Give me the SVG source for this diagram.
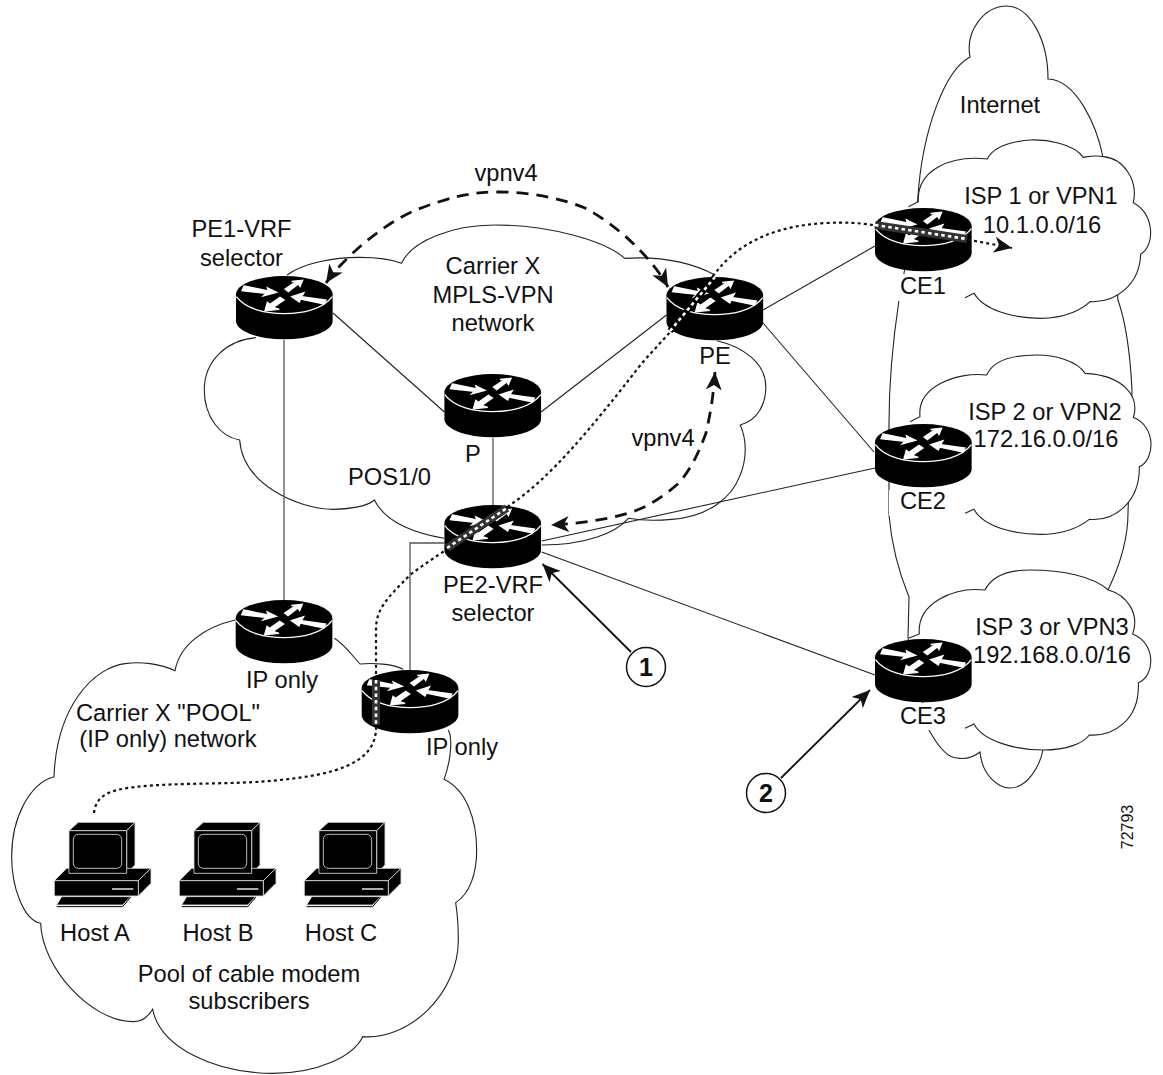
<svg xmlns="http://www.w3.org/2000/svg" xmlns:xlink="http://www.w3.org/1999/xlink" width="1163" height="1075" viewBox="0 0 1163 1075">
<style>
text{font-family:"Liberation Sans",Arial,sans-serif;font-size:23.7px;fill:#111;text-anchor:middle}
.cloud{fill:#fff;stroke:#222;stroke-width:1.1;vector-effect:non-scaling-stroke}
.open{fill:none}
.link{fill:none;stroke:#222;stroke-width:1.1}
.grey{stroke:#555;stroke-width:1.3}
.dot{fill:none;stroke:#111;stroke-width:2.2;stroke-dasharray:3 3.2}
.dash{fill:none;stroke:#111;stroke-width:2.8;stroke-dasharray:12 8}
.band{fill:none;stroke:#333;stroke-width:8}
.wdot{fill:none;stroke:#fff;stroke-width:2.6;stroke-dasharray:3.5 3.2}
.lab{fill:#fff;stroke:none}
.solid{stroke:#111;stroke-width:1.8;fill:none}
</style>
<defs>
<g id="router" transform="scale(.3333)">
<path d="M0,55 A145,55 0 0 1 290,55 V135 A145,55 0 0 1 0,135 Z" fill="#000"/>
<path d="M1,62 C30,100 90,113 145,113 C200,113 260,100 289,62" fill="none" stroke="#fff" stroke-width="4"/>
<g fill="#fff" stroke="#fff" stroke-width="4">
<polygon points="24,30 97,45 94,35 122,49 82,60 90,52 18,44"/>
<polygon points="200,13 192,32 187,24 157,47 147,39 177,19 167,16"/>
<polygon points="167,62 204,50 197,62 270,72 264,84 194,69 190,78"/>
<polygon points="87,104 94,79 102,85 132,64 144,72 112,94 130,100"/>
</g>
</g>
<g id="host" transform="translate(40 790) scale(.3333)" stroke="#ddd" stroke-width="2.5" stroke-linejoin="round">
<polygon points="87,122 115,97 285,97 260,122" fill="#000"/>
<polygon points="260,122 285,97 285,225 260,250" fill="#000"/>
<polygon points="43,272 80,235 333,235 295,272" fill="#000"/>
<polygon points="295,272 333,235 333,280 295,318" fill="#000"/>
<rect x="87" y="122" width="173" height="128" fill="#000"/>
<rect x="100" y="133" width="145" height="102" rx="15" fill="#000" stroke="#bbb" stroke-width="3"/>
<rect x="43" y="272" width="252" height="46" fill="#000"/>
<path d="M216,297 H280" stroke="#aaa" stroke-width="6"/>
<polygon points="65,320 272,320 248,345 50,345" fill="#000"/>
<path d="M50,350 H248 L272,322" fill="none" stroke="#000" stroke-width="3"/>
</g>
<marker id="barb" viewBox="0 0 18 18" markerUnits="userSpaceOnUse" markerWidth="18" markerHeight="18" refX="18" refY="9" orient="auto-start-reverse">
<path d="M0,1 L18,9 L0,17 L5,9 Z" fill="#111"/>
</marker>
<marker id="sharp" viewBox="0 0 18 18" markerUnits="userSpaceOnUse" markerWidth="18" markerHeight="18" refX="18" refY="9" orient="auto">
<path d="M0,1 L18,9 L0,17 L5,9 Z" fill="#111"/>
</marker>
</defs>

<g id="cloud-carrier" transform="translate(190 150) scale(.37636 .33333)">
<path class="cloud open" d="M258,375 C300,340 380,322 450,322 C500,322 540,330 562,340 C590,270 700,225 810,225 C950,225 1100,270 1155,325 C1230,320 1320,330 1395,375 M1400,572 C1470,590 1530,640 1530,710 C1530,760 1510,810 1462,825 C1480,870 1480,930 1460,980 C1440,1040 1380,1100 1280,1108 C1240,1112 1190,1110 1165,1105 C1130,1150 1050,1185 935,1185 M675,1165 C600,1150 520,1120 490,1050 C470,1070 420,1078 380,1078 C280,1075 140,1000 132,870 C80,860 38,800 38,720 C38,630 100,570 175,563"/>
</g>
<g id="cloud-pool" transform="translate(0 600) scale(.33333)">
<path class="cloud open" d="M705,60 C620,80 540,130 525,212 C480,190 420,185 380,190 C280,200 170,320 162,530 C90,550 35,650 35,770 C35,860 70,960 122,970 C125,1100 270,1265 400,1265 C425,1265 445,1250 458,1228 C480,1340 640,1420 820,1420 C950,1420 1060,1370 1088,1310 C1230,1320 1375,1180 1375,1020 C1375,980 1372,940 1367,908 C1410,880 1430,820 1430,750 C1430,660 1400,570 1332,538 C1350,490 1360,420 1345,390 M1210,208 C1180,192 1120,188 1080,192 C1060,170 1030,130 1003,115"/>
</g>
<g id="cloud-internet">
<path class="cloud" d="M929,730 C940,750 950,758 957,758 C968,760 975,756 980,752 C982,775 998,788 1010,788 C1028,788 1040,765 1043,750 L1108,590 C1120,565 1128,540 1128,513 L1132,390 C1130,350 1125,320 1118,300 L1103,157 C1097,127 1077,80 1048,79 C1048,40 1030,6 1006.7,6 C985,6 965,30 970,57 C945,70 922,130 917.7,200 L899,300 C893,340 889,380 889,423 L889,515 C892,550 902,580 909,597 L908,638 Z"/>
</g>
<g id="cloud-isp1" transform="translate(850 0) scale(.33333)">
<path class="cloud" d="M345,893 L372,880 C400,930 490,955 570,955 C650,955 700,925 720,905 C800,910 870,850 872,762 C915,740 915,640 850,608 C865,540 820,475 760,470 C730,465 715,470 700,472 C670,430 590,418 540,420 C480,425 430,440 412,477 C300,465 200,510 205,605 L175,620"/>
</g>
<g id="cloud-isp2" transform="translate(850 300) scale(.33333)">
<path class="cloud" d="M345,640 L372,628 C400,680 490,703 570,703 C640,703 690,680 718,658 C790,665 870,610 868,500 C915,480 920,380 850,352 C870,290 820,225 705,220 C680,180 610,165 560,165 C490,165 430,180 410,225 C320,215 200,260 210,350 L180,365"/>
</g>
<g id="cloud-isp3" transform="translate(850 560) scale(.33333)">
<path class="cloud" d="M345,505 L372,492 C400,545 500,570 580,570 C650,570 700,550 718,525 C790,530 870,480 865,368 C915,350 920,250 848,222 C870,160 830,105 775,90 C730,50 640,30 540,30 C470,30 425,50 405,90 C310,80 200,130 208,222 L175,235"/>
</g>

<g id="connectors">
<path class="link" d="M333,313 L444.4,412"/>
<path class="link" d="M666.5,315 L541,412"/>
<path class="link grey" d="M493,438 V505"/>
<path class="link grey" d="M284,340 V600"/>
<path class="link grey" d="M444,543 H410 V670"/>
<path class="link" d="M541.7,541 L875,468"/>
<path class="link" d="M541.7,552 L875,675"/>
<path class="link" d="M763,310 L875,246"/>
<path class="link" d="M763,323 L874,452"/>
</g>

<rect class="lab" x="885" y="274" width="78" height="27"/>
<rect class="lab" x="889" y="490" width="76" height="26"/>
<rect class="lab" x="889" y="703" width="76" height="27"/>

<g id="router-pe1"><use xlink:href="#router" href="#router" x="236" y="276"/></g>
<g id="router-p"><use xlink:href="#router" href="#router" x="444.4" y="374"/></g>
<g id="router-pe"><use xlink:href="#router" href="#router" x="666.5" y="277"/></g>
<g id="router-pe2"><use xlink:href="#router" href="#router" x="444.4" y="505"/></g>
<g id="router-ip1"><use xlink:href="#router" href="#router" x="235.7" y="600"/></g>
<g id="router-ip2"><use xlink:href="#router" href="#router" x="361.7" y="670"/></g>
<g id="router-ce1"><use xlink:href="#router" href="#router" x="875" y="208"/></g>
<g id="router-ce2"><use xlink:href="#router" href="#router" x="875" y="424"/></g>
<g id="router-ce3"><use xlink:href="#router" href="#router" x="875" y="639"/></g>

<g id="host-a"><use xlink:href="#host" href="#host"/></g>
<g id="host-b"><use xlink:href="#host" href="#host" x="125"/></g>
<g id="host-c"><use xlink:href="#host" href="#host" x="250"/></g>

<g id="paths">
<path class="dot" d="M94,813 C96,795 110,790 135,787 C180,782 235,785 280,780 C330,775 376,765 376,728 V630 C376,610 385,600 410,575 C440,552 480,530 510,505 C550,478 590,430 642,363 L672,330 C690,305 705,285 722,265 C745,240 780,225 827,223 C845,222 860,223 873,225 L965,239 L1012,248" marker-end="url(#sharp)"/>
<path class="band" d="M376,680 V725"/>
<path class="wdot" d="M376,680 V725"/>
<path class="band" d="M447,548 L507,508"/>
<path class="wdot" d="M447,548 L507,508"/>
<path class="band" style="stroke:#000;stroke-width:6" d="M670,331 L715,277"/>
<path class="wdot" d="M670,331 L715,277"/>
<path class="band" d="M875,225 L967,239"/>
<path class="wdot" d="M875,225 L967,239"/>
<path class="dash" d="M326,283 C340,262 380,225 416,210 C450,197 470,192 498,192 C530,192 560,198 585,208 C615,224 650,255 668,287" marker-start="url(#barb)" marker-end="url(#barb)"/>
<path class="dash" d="M715,372 C713,400 710,415 706,433 C698,455 690,470 679,483 C665,495 655,502 642,508 C625,516 590,523 551,525" marker-start="url(#barb)" marker-end="url(#barb)"/>
<path class="solid" d="M631,652 L542.5,564" marker-end="url(#sharp)"/>
<path class="solid" d="M781,778 L870,690" marker-end="url(#sharp)"/>
</g>

<g id="callout-1"><circle cx="646" cy="667" r="19.5" fill="#fff" stroke="#111" stroke-width="1.5"/><text x="646" y="676" style="font-weight:bold;font-size:25px">1</text></g>
<g id="callout-2"><circle cx="766" cy="793" r="19.5" fill="#fff" stroke="#111" stroke-width="1.5"/><text x="766" y="802" style="font-weight:bold;font-size:25px">2</text></g>

<g id="labels">
<text x="1000" y="113">Internet</text>
<text x="1041" y="204">ISP 1 or VPN1</text>
<text x="1042" y="233">10.1.0.0/16</text>
<text x="923" y="294">CE1</text>
<text x="1045" y="420">ISP 2 or VPN2</text>
<text x="1046" y="447">172.16.0.0/16</text>
<text x="923" y="509">CE2</text>
<text x="1052" y="635">ISP 3 or VPN3</text>
<text x="1052" y="663">192.168.0.0/16</text>
<text x="923" y="724">CE3</text>
<text transform="translate(1133 827) rotate(-90)" style="font-size:16px">72793</text>
<text x="506" y="181">vpnv4</text>
<text x="241.5" y="237">PE1-VRF</text>
<text x="241.5" y="266">selector</text>
<text x="493" y="274">Carrier X</text>
<text x="493" y="303">MPLS-VPN</text>
<text x="493" y="331">network</text>
<text x="473" y="462">P</text>
<text x="389.5" y="485">POS1/0</text>
<text x="663" y="446">vpnv4</text>
<text x="715" y="364">PE</text>
<text x="493" y="593">PE2-VRF</text>
<text x="493" y="621">selector</text>
<text x="282" y="688">IP only</text>
<text x="462" y="755">IP only</text>
<text x="168" y="721">Carrier X "POOL"</text>
<text x="168" y="747">(IP only) network</text>
<text x="95" y="941">Host A</text>
<text x="218" y="941">Host B</text>
<text x="341" y="941">Host C</text>
<text x="249" y="982">Pool of cable modem</text>
<text x="249" y="1009">subscribers</text>
</g>
</svg>
